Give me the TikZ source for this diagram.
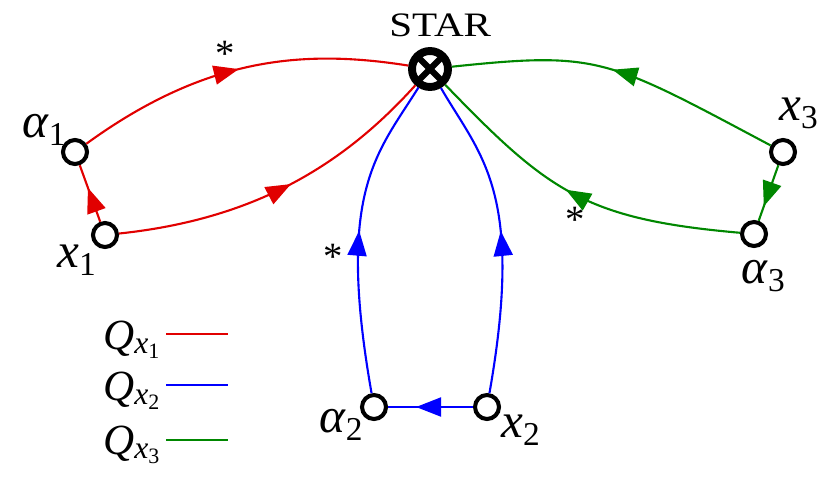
\documentclass[tikz,border=0pt]{standalone}
\usepackage{fontspec}
\usepackage{graphicx}
\setmainfont{Liberation Serif}
\usetikzlibrary{arrows.meta,calc,decorations.markings}
\definecolor{cR}{RGB}{225,0,0}
\definecolor{cB}{RGB}{0,0,255}
\definecolor{cG}{RGB}{0,135,0}
\newcommand\nlab[2]{\textit{#1}\raisebox{-5pt}{\fontsize{19}{19}\selectfont #2}}
\newcommand\qlab[1]{\textit{Q}\raisebox{-2.6pt}{\fontsize{18}{18}\selectfont\textit{x}\raisebox{-3pt}{\fontsize{12.5}{12.5}\selectfont #1}}}
\begin{document}
\begin{tikzpicture}[x=0.02cm,y=0.02cm,
  vtx/.style={circle,draw,line width=2.3pt,minimum size=0.48cm,inner sep=0pt},
  hub/.style={circle,draw,line width=4.5pt,minimum size=0.72cm,inner sep=0pt},
  edge/.style={line width=1.2pt},
  mid/.style={edge,postaction={decorate},decoration={markings,
    mark=at position #1 with {\arrow{Triangle[length=0.5cm,width=0.38cm]}}}},
  lab/.style={inner sep=0pt,anchor=base west,font=\fontsize{28}{28}\selectfont},
  ast/.style={inner sep=0pt,anchor=base,font=\fontsize{22}{22}\selectfont},
  qtext/.style={inner sep=0pt,anchor=base west,font=\fontsize{24.5}{24.5}\selectfont},
  leg/.style={line width=1.5pt}]
\useasboundingbox (0,0) rectangle (831,478);
% nodes
\node[hub] (hub) at (430,409) {};
\node[vtx] (a1) at (75,326) {};
\node[vtx] (x1) at (105,243) {};
\node[vtx] (a2) at (374,71) {};
\node[vtx] (x2) at (487,71) {};
\node[vtx] (x3) at (783,326) {};
\node[vtx] (a3) at (754,244) {};
\draw[line width=3.5pt] ([shift={(45:0.3cm)}]hub.center) -- ([shift={(225:0.3cm)}]hub.center);
\draw[line width=3.5pt] ([shift={(135:0.3cm)}]hub.center) -- ([shift={(315:0.3cm)}]hub.center);
% labels
\node[inner sep=0pt,anchor=base west,font=\fontsize{19.5}{19.5}\selectfont] (star) at (389,442) {\scalebox{1.2}[1]{STAR}};
\node[lab] (la1) at (22,341) {\nlab{α}{1}};
\node[lab] (lx1) at (57,211) {\nlab{x}{1}};
\node[lab] (la2) at (319,46) {\nlab{α}{2}};
\node[lab] (lx2) at (501,41) {\nlab{x}{2}};
\node[lab] (lx3) at (779,358) {\nlab{x}{3}};
\node[lab] (la3) at (741,195) {\nlab{α}{3}};
\node[ast] (s1) at (225,412) {*};
\node[ast] (s2) at (333,209) {*};
\node[ast] (s3) at (575,246) {*};
% control points
\coordinate (cr1a) at ($(a1)+(36:160)$);  \coordinate (cr1b) at ($(hub)+(171:130)$);
\coordinate (cr2a) at ($(x1)+(6:150)$);   \coordinate (cr2b) at ($(hub)+(228:130)$);
\coordinate (cb1a) at ($(a2)+(100:220)$); \coordinate (cb1b) at ($(hub)+(238:100)$);
\coordinate (cb2a) at ($(x2)+(80:220)$);  \coordinate (cb2b) at ($(hub)+(-60:100)$);
\coordinate (cg1a) at ($(x3)+(152:200)$); \coordinate (cg1b) at ($(hub)+(6:170)$);
\coordinate (cg2a) at ($(a3)+(175:170)$); \coordinate (cg2b) at ($(hub)+(-46:170)$);
% red
\draw[mid=0.5,cR] (a1) .. controls (cr1a) and (cr1b) .. (hub);
\draw[mid=0.53,cR] (x1) .. controls (cr2a) and (cr2b) .. (hub);
\draw[mid=0.6,cR] (x1) -- (a1);
% blue
\draw[mid=0.51,cB] (a2) .. controls (cb1a) and (cb1b) .. (hub);
\draw[mid=0.51,cB] (x2) .. controls (cb2a) and (cb2b) .. (hub);
\draw[mid=0.67,cB] (x2) -- (a2);
% green
\draw[mid=0.52,cG] (x3) .. controls (cg1a) and (cg1b) .. (hub);
\draw[mid=0.53,cG] (a3) .. controls (cg2a) and (cg2b) .. (hub);
\draw[mid=0.74,cG] (x3) -- (a3);
% legend
\node[qtext] (q1) at (103,129) {\qlab{1}};
\node[qtext] (q2) at (103,78) {\qlab{2}};
\node[qtext] (q3) at (103,24) {\qlab{3}};
\coordinate (l1a) at (166,144); \coordinate (l1b) at (228,144);
\coordinate (l2a) at (166,93); \coordinate (l2b) at (228,93);
\coordinate (l3a) at (166,38); \coordinate (l3b) at (228,38);
\draw[leg,cR] (l1a) -- (l1b);
\draw[leg,cB] (l2a) -- (l2b);
\draw[leg,cG] (l3a) -- (l3b);
\end{tikzpicture}
\end{document}
